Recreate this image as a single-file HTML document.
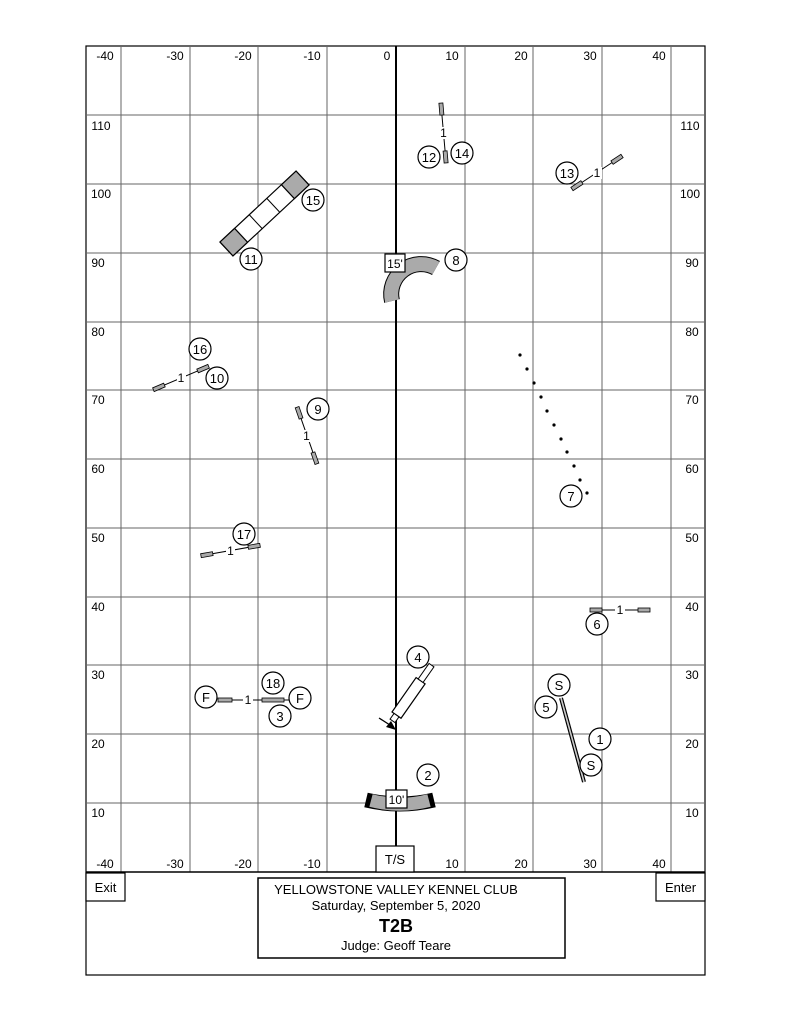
<!DOCTYPE html>
<html><head><meta charset="utf-8"><style>
html,body{margin:0;padding:0;background:#fff}
svg{display:block}
text{font-family:"Liberation Sans",sans-serif}
</style></head><body>
<svg width="791" height="1023" viewBox="0 0 791 1023" xmlns="http://www.w3.org/2000/svg">
<defs>
<g id="j30"><line x1="-30" y1="0" x2="30" y2="0" stroke="#000" stroke-width="1"/><rect x="-30" y="-2" width="12" height="4" fill="#aaa" stroke="#000" stroke-width="0.8"/><rect x="18" y="-2" width="12" height="4" fill="#aaa" stroke="#000" stroke-width="0.8"/></g>
</defs>
<rect x="86" y="46" width="619" height="929" fill="#fff" stroke="#000" stroke-width="1.2"/>
<g stroke="#666" stroke-width="1">
<line x1="121" y1="46" x2="121" y2="872"/><line x1="190" y1="46" x2="190" y2="872"/><line x1="258" y1="46" x2="258" y2="872"/><line x1="327" y1="46" x2="327" y2="872"/><line x1="465" y1="46" x2="465" y2="872"/><line x1="533" y1="46" x2="533" y2="872"/><line x1="602" y1="46" x2="602" y2="872"/><line x1="671" y1="46" x2="671" y2="872"/>
<line x1="86" y1="115" x2="705" y2="115"/><line x1="86" y1="184" x2="705" y2="184"/><line x1="86" y1="253" x2="705" y2="253"/><line x1="86" y1="322" x2="705" y2="322"/><line x1="86" y1="390" x2="705" y2="390"/><line x1="86" y1="459" x2="705" y2="459"/><line x1="86" y1="528" x2="705" y2="528"/><line x1="86" y1="597" x2="705" y2="597"/><line x1="86" y1="665" x2="705" y2="665"/><line x1="86" y1="734" x2="705" y2="734"/><line x1="86" y1="803" x2="705" y2="803"/>
</g>
<line x1="86" y1="872" x2="705" y2="872" stroke="#000" stroke-width="1.5"/>
<line x1="396" y1="46" x2="396" y2="846" stroke="#000" stroke-width="2"/>
<g font-size="12" fill="#000" text-anchor="middle">
<text x="105" y="60">-40</text><text x="175" y="60">-30</text><text x="243" y="60">-20</text><text x="312" y="60">-10</text><text x="387" y="60">0</text><text x="452" y="60">10</text><text x="521" y="60">20</text><text x="590" y="60">30</text><text x="659" y="60">40</text>
<text x="105" y="868">-40</text><text x="175" y="868">-30</text><text x="243" y="868">-20</text><text x="312" y="868">-10</text><text x="452" y="868">10</text><text x="521" y="868">20</text><text x="590" y="868">30</text><text x="659" y="868">40</text>
<text x="101" y="130">110</text><text x="101" y="198">100</text><text x="98" y="267">90</text><text x="98" y="336">80</text><text x="98" y="404">70</text><text x="98" y="473">60</text><text x="98" y="542">50</text><text x="98" y="611">40</text><text x="98" y="679">30</text><text x="98" y="748">20</text><text x="98" y="817">10</text>
<text x="690" y="130">110</text><text x="690" y="198">100</text><text x="692" y="267">90</text><text x="692" y="336">80</text><text x="692" y="404">70</text><text x="692" y="473">60</text><text x="692" y="542">50</text><text x="692" y="611">40</text><text x="692" y="679">30</text><text x="692" y="748">20</text><text x="692" y="817">10</text>
</g>
<!-- dogwalk -->
<g transform="translate(264.5,213.5) rotate(-43)">
<rect x="-52" y="-9.5" width="104" height="19" fill="#fff" stroke="#000" stroke-width="1.2"/>
<rect x="-52" y="-9.5" width="20" height="19" fill="#aaa" stroke="#000" stroke-width="1.2"/>
<rect x="32" y="-9.5" width="20" height="19" fill="#aaa" stroke="#000" stroke-width="1.2"/>
<line x1="-12" y1="-9.5" x2="-12" y2="9.5" stroke="#000"/><line x1="12" y1="-9.5" x2="12" y2="9.5" stroke="#000"/>
</g>
<!-- tunnel 8 -->
<path d="M392,301 A30,30 0 0 1 436,268" fill="none" stroke="#000" stroke-width="16"/>
<path d="M392,301 A30,30 0 0 1 436,268" fill="none" stroke="#aaa" stroke-width="14"/>
<!-- tunnel 2 -->
<path d="M366,800 Q400,808 434,800" fill="none" stroke="#000" stroke-width="15"/>
<path d="M371,800.5 Q400,808 429,800.5" fill="none" stroke="#aaa" stroke-width="13"/>
<!-- jumps -->
<g transform="translate(443.5,133) rotate(85)"><use href="#j30"/></g>
<g transform="translate(597,172.5) rotate(-33.4)"><use href="#j30"/></g>
<g transform="translate(181,378) rotate(-23)"><use href="#j30"/></g>
<g transform="translate(307,435.5) rotate(70.7)"><use href="#j30"/></g>
<g transform="translate(230.5,550.5) rotate(-10)"><use href="#j30"/></g>
<g transform="translate(620,610)"><use href="#j30"/></g>
<line x1="218" y1="700" x2="290" y2="700" stroke="#000"/>
<rect x="218" y="698" width="14" height="4" fill="#aaa" stroke="#000" stroke-width="0.8"/>
<rect x="262" y="698" width="22" height="4" fill="#aaa" stroke="#000" stroke-width="0.8"/>
<g font-size="12" text-anchor="middle">
<rect x="439" y="127" width="9" height="12" fill="#fff"/><text x="443.5" y="137">1</text>
<rect x="593" y="167" width="9" height="12" fill="#fff"/><text x="597" y="177">1</text>
<rect x="177" y="372" width="9" height="12" fill="#fff"/><text x="181" y="382">1</text>
<rect x="302" y="430" width="9" height="12" fill="#fff"/><text x="306.5" y="440">1</text>
<rect x="226" y="545" width="9" height="12" fill="#fff"/><text x="230.5" y="555">1</text>
<rect x="615" y="604" width="10" height="12" fill="#fff"/><text x="620" y="614">1</text>
<rect x="243" y="694" width="10" height="12" fill="#fff"/><text x="248" y="704">1</text>
</g>
<!-- weaves 7 -->
<g fill="#000">
<circle cx="520" cy="355" r="1.6"/><circle cx="527" cy="369" r="1.6"/><circle cx="534" cy="383" r="1.6"/><circle cx="541" cy="397" r="1.6"/><circle cx="547" cy="411" r="1.6"/><circle cx="554" cy="425" r="1.6"/><circle cx="561" cy="439" r="1.6"/><circle cx="567" cy="452" r="1.6"/><circle cx="574" cy="466" r="1.6"/><circle cx="580" cy="480" r="1.6"/><circle cx="587" cy="493" r="1.6"/>
</g>
<!-- seesaw 1/5 -->
<line x1="561" y1="698" x2="584" y2="782" stroke="#000" stroke-width="4"/>
<line x1="561" y1="698" x2="584" y2="782" stroke="#ccc" stroke-width="1.6"/>
<!-- 4 chute/ramp -->
<g transform="translate(412,693) rotate(-55)">
<rect x="-27" y="-5.5" width="42" height="11" fill="#fff" stroke="#000" stroke-width="1.2"/>
<rect x="-34" y="-3" width="7" height="6" fill="#fff" stroke="#000"/>
<rect x="15" y="-3" width="19" height="6" fill="#fff" stroke="#000"/>
</g>
<line x1="379" y1="718" x2="393" y2="727" stroke="#000" stroke-width="1.3"/>
<polygon points="396,730 386,727 391,721" fill="#000"/>
<!-- number circles -->
<g fill="#fff" stroke="#000" stroke-width="1.2">
<circle cx="429" cy="157" r="11"/><circle cx="462" cy="153" r="11"/><circle cx="567" cy="173" r="11"/><circle cx="313" cy="200" r="11"/><circle cx="251" cy="259" r="11"/><circle cx="456" cy="260" r="11"/><circle cx="200" cy="349" r="11"/><circle cx="217" cy="378" r="11"/><circle cx="318" cy="409" r="11"/><circle cx="571" cy="496" r="11"/><circle cx="244" cy="534" r="11"/><circle cx="597" cy="624" r="11"/><circle cx="418" cy="657" r="11"/><circle cx="559" cy="685" r="11"/><circle cx="546" cy="707" r="11"/><circle cx="600" cy="739" r="11"/><circle cx="591" cy="765" r="11"/><circle cx="206" cy="697" r="11"/><circle cx="273" cy="683" r="11"/><circle cx="300" cy="698" r="11"/><circle cx="280" cy="716" r="11"/><circle cx="428" cy="775" r="11"/>
</g>
<g font-size="13" text-anchor="middle">
<text x="429" y="162">12</text><text x="462" y="158">14</text><text x="567" y="178">13</text><text x="313" y="205">15</text><text x="251" y="264">11</text><text x="456" y="265">8</text><text x="200" y="354">16</text><text x="217" y="383">10</text><text x="318" y="414">9</text><text x="571" y="501">7</text><text x="244" y="539">17</text><text x="597" y="629">6</text><text x="418" y="662">4</text><text x="559" y="690">S</text><text x="546" y="712">5</text><text x="600" y="744">1</text><text x="591" y="770">S</text><text x="206" y="702">F</text><text x="273" y="688">18</text><text x="300" y="703">F</text><text x="280" y="721">3</text><text x="428" y="780">2</text>
</g>
<!-- boxes -->
<rect x="385" y="254" width="20" height="18" fill="#fff" stroke="#000" stroke-width="1.2"/>
<text x="395" y="268" font-size="12" text-anchor="middle">15'</text>
<rect x="386" y="790" width="21" height="18" fill="#fff" stroke="#000" stroke-width="1.2"/>
<text x="396.5" y="804" font-size="12" text-anchor="middle">10'</text>
<rect x="376" y="846" width="38" height="26" fill="#fff" stroke="#000" stroke-width="1.2"/>
<text x="395" y="864" font-size="13" text-anchor="middle">T/S</text>
<rect x="86" y="873" width="39" height="28" fill="#fff" stroke="#000" stroke-width="1.2"/>
<text x="105.5" y="892" font-size="13" text-anchor="middle">Exit</text>
<rect x="656" y="873" width="49" height="28" fill="#fff" stroke="#000" stroke-width="1.2"/>
<text x="680.5" y="892" font-size="13" text-anchor="middle">Enter</text>
<rect x="258" y="878" width="307" height="80" fill="#fff" stroke="#000" stroke-width="1.5"/>
<g text-anchor="middle">
<text x="396" y="894" font-size="13">YELLOWSTONE VALLEY KENNEL CLUB</text>
<text x="396" y="910" font-size="13">Saturday, September 5,  2020</text>
<text x="396" y="932" font-size="18" font-weight="bold">T2B</text>
<text x="396" y="950" font-size="13">Judge: Geoff Teare</text>
</g>
</svg>
</body></html>
